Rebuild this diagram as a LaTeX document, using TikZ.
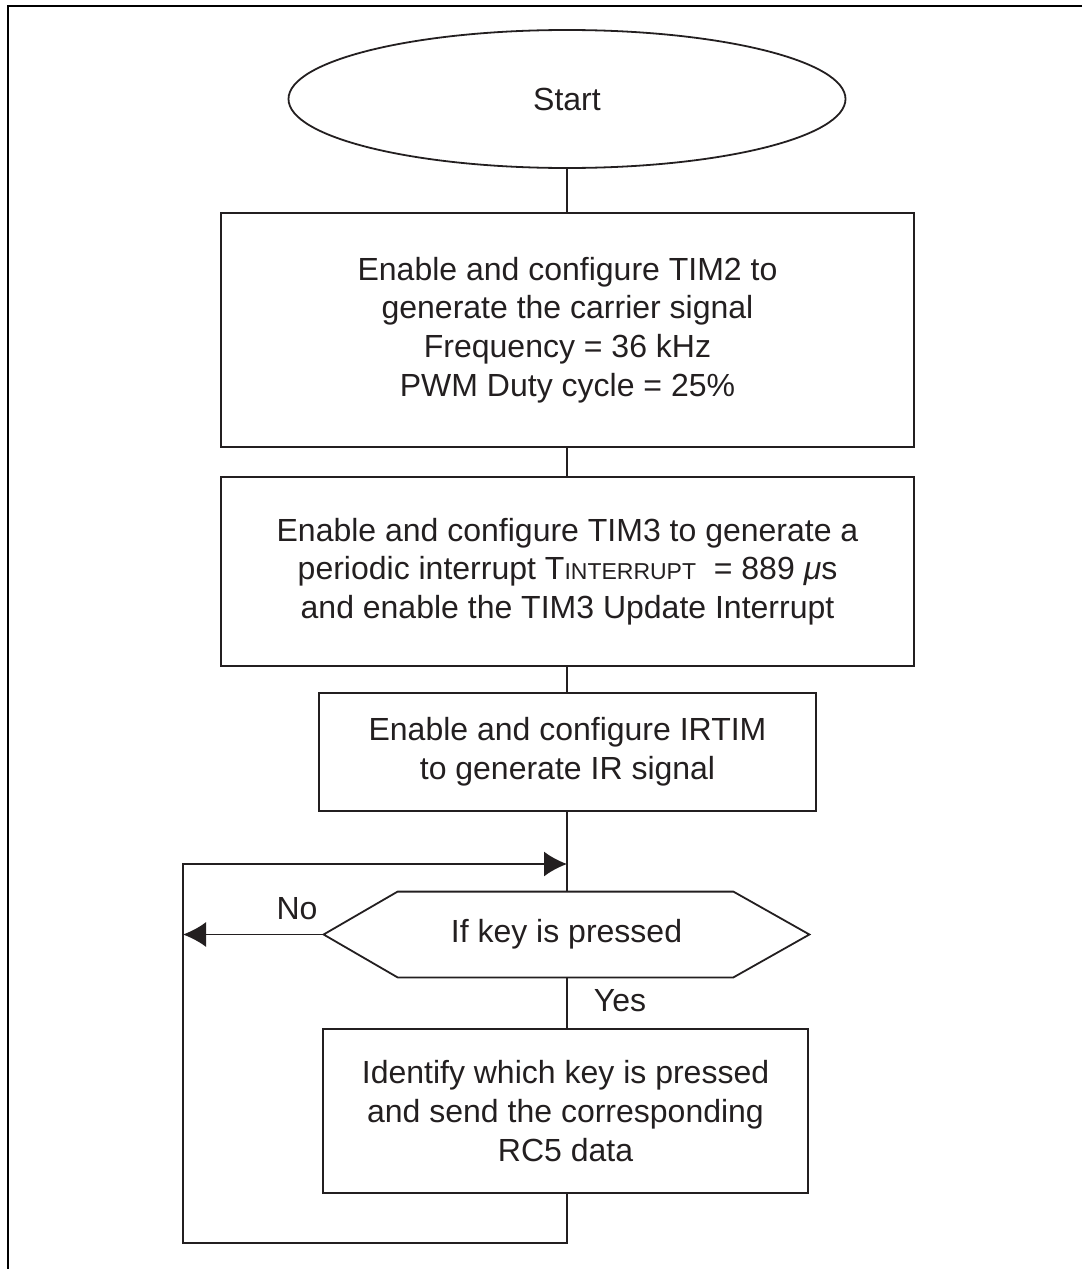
\documentclass[tikz,border=0pt]{standalone}
\usepackage{fontspec}
\setmainfont{Liberation Sans}
\usetikzlibrary{arrows.meta,shapes.geometric}

\definecolor{inkgray}{RGB}{35,31,32}
\tikzset{
	flowbox/.style={draw=inkgray, line width=0.9pt, align=center, inner sep=0pt},
	flowline/.style={draw=inkgray, line width=0.9pt},
	flowarrow/.style={draw=inkgray, line width=0.9pt, -{Latex[length=11.5pt,width=12.5pt]}},
}

\begin{document}
\begin{tikzpicture}[x=0.5pt,y=-0.5pt, every node/.style={text=inkgray, font=\fontsize{16}{19.3}\selectfont}]
			\useasboundingbox (0,0) rectangle (1082,1269);
			\draw[line width=1pt](1082,6) -- (8,6) -- (8,1269);
			\node[flowbox, ellipse, minimum width=278.5pt, minimum height=69pt] (start) at (567,99) {Start};
			\node[flowbox, minimum width=346.5pt, minimum height=117pt] (tim2) at (567.5,330) {Enable and configure TIM2 to\\generate the carrier signal\\Frequency = 36 kHz\\PWM Duty cycle = 25\%};
			\node[flowbox, minimum width=346.5pt, minimum height=94.5pt] (tim3) at (567.5,571.5) {Enable and configure TIM3 to generate a\\periodic interrupt T{\fontsize{11.5}{12}\selectfont INTERRUPT}\ \ = 889 {\itshape μ}s\\and enable the TIM3 Update Interrupt};
			\node[flowbox, minimum width=248.5pt, minimum height=59pt] (irtim) at (567.5,752) {Enable and configure IRTIM\\to generate IR signal};
			\node[inner sep=0pt, minimum width=242.5pt, minimum height=42.5pt] (key) at (566.5,934.5) {If key is pressed};
			\draw[flowline](key.west) -- ([xshift=37pt]key.north west) -- ([xshift=-38pt]key.north east) -- (key.east) -- ([xshift=-38pt]key.south east) -- ([xshift=37pt]key.south west) -- cycle;
			\node[flowbox, minimum width=242.5pt, minimum height=82pt] (send) at (565.5,1111) {Identify which key is pressed\\and send the corresponding\\RC5 data};
			\node (no) at (297,909) {No};
			\node (yes) at (620,1001) {Yes};
			\coordinate (top) at (567,864);
			\coordinate (loop) at (183,1243);
			\draw[flowline](start.south -| top) -- (top |- tim2.north);
			\draw[flowline](tim2.south -| top) -- (top |- tim3.north);
			\draw[flowline](tim3.south -| top) -- (top |- irtim.north);
			\draw[flowline](irtim.south -| top) -- (top |- key.north);
			\draw[flowline](top |- key.south) -- (top |- send.north);
			\draw[flowarrow](top |- send.south) -- (top |- loop) -- (loop) -- (loop |- top) -- (top);
			\draw[flowarrow](key.west) -- (loop |- key.west);
		\end{tikzpicture}
\end{document}
